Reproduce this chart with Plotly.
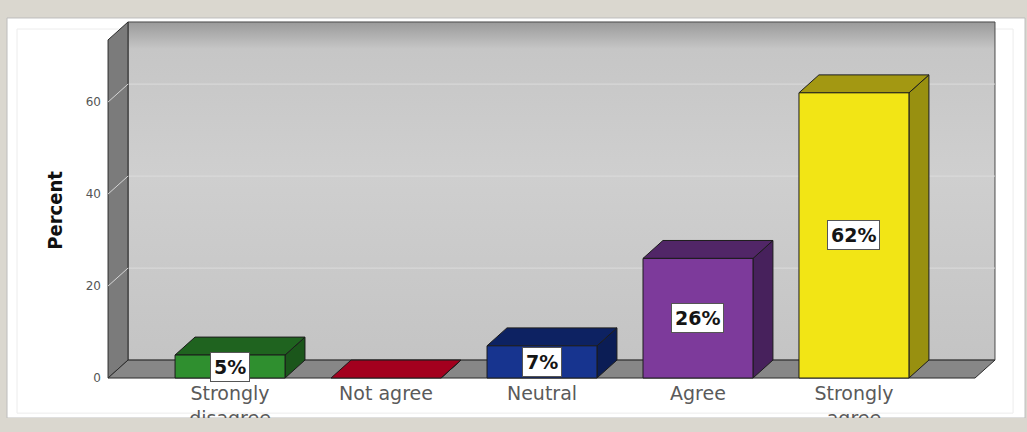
import plotly.graph_objects as go

# ---- data -------------------------------------------------------------
categories = ["Strongly<br>disagree", "Not agree", "Neutral", "Agree", "Strongly<br>agree"]
percent = [5, 0, 7, 26, 62]
y_ticks = [0, 20, 40, 60]

front_colors = ["#2f8f2f", "#c8102e", "#17348f", "#7d3a9b", "#f2e515"]
top_colors = ["#1f631f", "#a3001e", "#0d2262", "#512667", "#a39812"]
side_colors = ["#1b561b", "#8c0019", "#0b1d55", "#47215c", "#989010"]

# ---- geometry (axis units) ---------------------------------------------
X_RANGE = [-0.808, 4.917]
Y_RANGE = [-0.43, 77.83]
WALL_LEFT, WALL_RIGHT, WALL_TOP = -0.782, 4.904, 77.4
DX, DY = 0.128, 3.9          # depth offset of the 3-D effect
BAR_W = 0.705
EDGE = "#1c1c1c"

fig = go.Figure()


def poly(xs, ys, fill, line=EDGE, width=1, **kw):
    fig.add_trace(go.Scatter(
        x=list(xs) + [xs[0]], y=list(ys) + [ys[0]], mode="lines",
        fill="toself", fillcolor=fill, line=dict(color=line, width=width),
        hoverinfo="skip", showlegend=False, **kw))


def seg(x0, y0, x1, y1, color, width=1):
    fig.add_trace(go.Scatter(
        x=[x0, x1], y=[y0, y1], mode="lines",
        line=dict(color=color, width=width),
        hoverinfo="skip", showlegend=False))


# back wall with soft vertical shading
poly([WALL_LEFT + DX, WALL_RIGHT, WALL_RIGHT, WALL_LEFT + DX],
     [DY, DY, WALL_TOP, WALL_TOP], "#c9c9c9", line="#4a4a4a",
     fillgradient=dict(type="vertical", start=DY, stop=WALL_TOP,
                       colorscale=[[0, "#c4c4c4"], [0.55, "#cfcfcf"],
                                   [0.92, "#c6c6c6"], [1, "#9a9a9a"]]))

# grid lines on the back wall
for v in y_ticks[1:]:
    seg(WALL_LEFT + DX, v + DY, WALL_RIGHT, v + DY, "#dcdcdc")

# left wall
poly([WALL_LEFT, WALL_LEFT + DX, WALL_LEFT + DX, WALL_LEFT],
     [0, DY, WALL_TOP, WALL_TOP - DY], "#7b7b7b", line="#2a2a2a")
for v in y_ticks[1:]:
    seg(WALL_LEFT, v, WALL_LEFT + DX, v + DY, "#d6d6d6")

# floor
poly([WALL_LEFT, WALL_LEFT + DX, WALL_RIGHT, WALL_RIGHT - DX],
     [0, DY, DY, 0], "#878787", line="#2a2a2a")

# 3-D bars: side, top and front faces
for i, v in enumerate(percent):
    xl, xr = i - BAR_W / 2, i + BAR_W / 2
    poly([xr, xr + DX, xr + DX, xr], [0, DY, v + DY, v], side_colors[i])
    poly([xl, xl + DX, xr + DX, xr], [v, v + DY, v + DY, v], top_colors[i])
    if v > 0:
        poly([xl, xr, xr, xl], [0, 0, v, v], front_colors[i])

# value labels in white boxes
annotations = []
for i, v in enumerate(percent):
    if v > 0:
        annotations.append(dict(
            x=i, y=v / 2, xref="x", yref="y", text=f"<b>{v}%</b>",
            showarrow=False, bgcolor="white", bordercolor="#555555",
            borderwidth=1, borderpad=3,
            font=dict(family="DejaVu Sans", size=19, color="#151515")))

annotations.append(dict(
    x=-0.071, y=0.472, xref="paper", yref="paper", text="<b>Percent</b>",
    textangle=-90, showarrow=False,
    font=dict(family="Liberation Sans Narrow, DejaVu Sans Condensed, sans-serif",
              size=20, color="#111111")))

shapes = [
    # white panel
    dict(type="rect", xref="paper", yref="paper", layer="below",
         x0=-0.1086, x1=1.0314, y0=-0.1056, y1=1.0056,
         fillcolor="white", line=dict(color="#bdbdbd", width=1)),
    dict(type="rect", xref="paper", yref="paper", layer="below",
         x0=-0.0974, x1=1.018, y0=-0.092, y1=0.975,
         fillcolor="rgba(0,0,0,0)", line=dict(color="#ececec", width=1)),
    # frame strip along the bottom edge
    dict(type="rect", xref="paper", yref="paper", layer="above",
         x0=-0.2, x1=1.2, y0=-0.1444, y1=-0.1056,
         fillcolor="#dad7cf", line=dict(width=0)),
]

fig.update_layout(
    width=1027, height=432,
    margin=dict(l=104, r=30, t=20, b=52),
    paper_bgcolor="#dad7cf", plot_bgcolor="rgba(0,0,0,0)",
    showlegend=False, annotations=annotations, shapes=shapes,
    xaxis=dict(range=X_RANGE, tickvals=list(range(len(categories))),
               ticktext=categories, showgrid=False, zeroline=False,
               showline=False, ticks="", fixedrange=True, automargin=False,
               tickfont=dict(family="DejaVu Sans", size=19, color="#5a5a5a")),
    yaxis=dict(range=Y_RANGE, tickvals=y_ticks, showgrid=False,
               zeroline=False, showline=False, ticks="", fixedrange=True,
               ticklabelstandoff=2, automargin=False,
               tickfont=dict(family="DejaVu Sans", size=12, color="#555555")),
)

fig.write_html("out.html")
